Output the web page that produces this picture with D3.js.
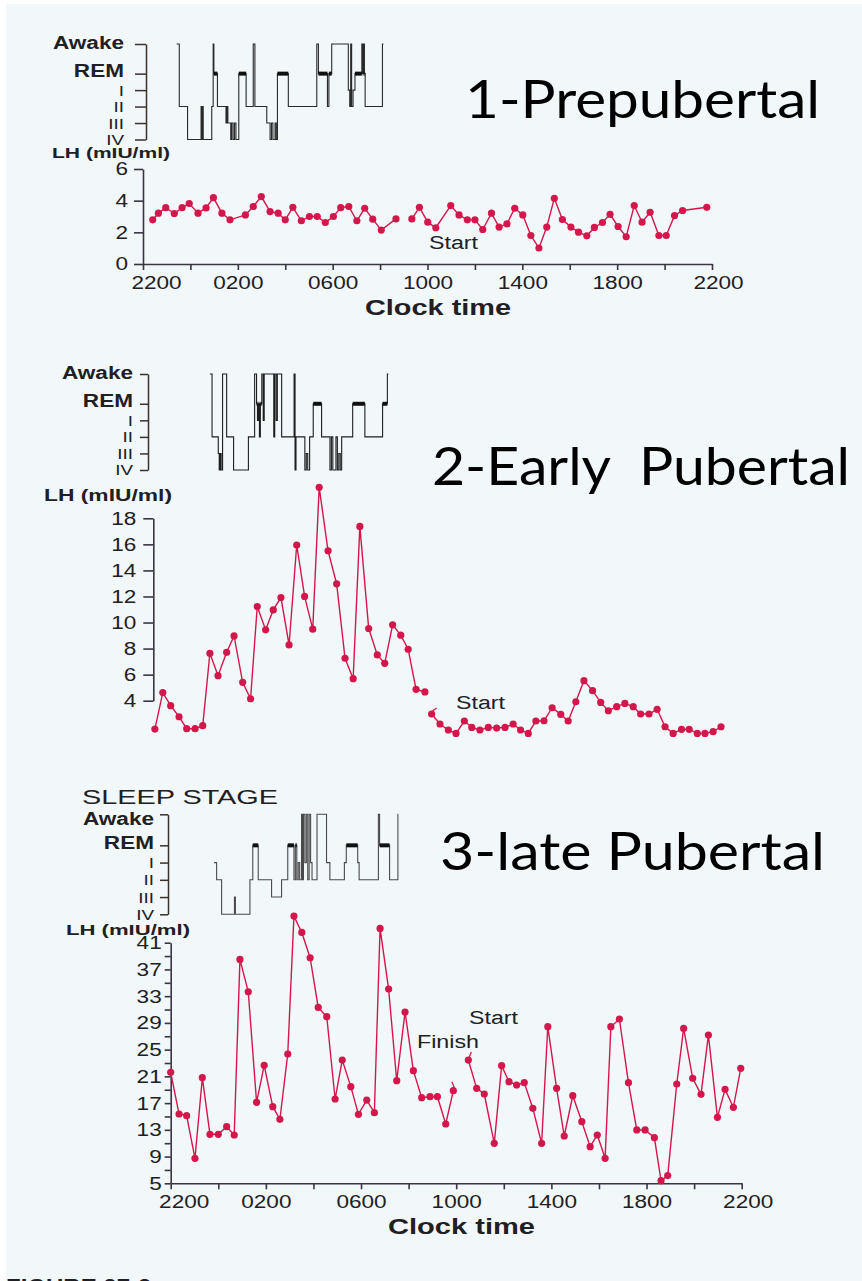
<!DOCTYPE html>
<html>
<head>
<meta charset="utf-8">
<script src="https://cdn.jsdelivr.net/npm/d3@7"></script>
<style>
  html, body { margin: 0; padding: 0; background: #fff; }
  svg { display: block; }
  text { font-family: "Liberation Sans", Arial, sans-serif; fill: #202024; }
  .title { font-family: Lato, "Open Sans", sans-serif; fill: #000; }
</style>
</head>
<body>
<svg id="chart" width="862" height="1281"></svg>
<script>
// all times are hours after 22:00, LH in mIU/ml
const p1Hours = [0.41, 0.65, 0.96, 1.32, 1.65, 1.95, 2.32, 2.66, 2.97, 3.33, 3.67, 4.32, 4.65, 4.99, 5.36, 5.70, 6.00, 6.32, 6.68, 7.02,
  7.35, 7.69, 8.03, 8.34, 8.68, 9.02, 9.35, 9.69, 10.05, 10.67,
  11.34, 11.66, 12.01, 12.35, 12.98, 13.33, 13.68, 14.00, 14.33, 14.70, 15.02, 15.35, 15.68, 16.02, 16.36, 16.70, 17.03, 17.35, 17.69, 18.05,
  18.37, 18.72, 19.04, 19.38, 19.70, 20.04, 20.38, 20.72, 21.05, 21.39, 21.76, 22.07, 22.42, 22.76, 23.78];
const p1LH = [2.79, 3.21, 3.56, 3.19, 3.56, 3.82, 3.21, 3.54, 4.19, 3.21, 2.79, 3.10, 3.63, 4.26, 3.31, 3.21, 2.79, 3.58, 2.73, 3.00,
  3.00, 2.62, 3.00, 3.56, 3.63, 2.73, 3.52, 2.83, 2.14, 2.85,
  2.85, 3.58, 2.64, 2.29, 3.69, 3.10, 2.79, 2.79, 2.18, 3.21, 2.33, 2.54, 3.52, 3.10, 1.80, 1.01, 2.33, 4.15, 2.81, 2.33,
  2.01, 1.78, 2.31, 2.62, 3.14, 2.37, 1.72, 3.69, 2.64, 3.27, 1.80, 1.80, 3.06, 3.38, 3.58];
const p1Breaks = [10.67];

const p2Hours = [0.33, 0.66, 0.99, 1.34, 1.66, 2.01, 2.33, 2.63, 2.97, 3.33, 3.64, 4.00, 4.33, 4.61, 4.96, 5.28, 5.60, 5.94, 6.26, 6.59,
  6.93, 7.20, 7.57, 7.93, 8.28, 8.62, 8.90, 9.27, 9.63, 9.94, 10.27, 10.61, 10.92, 11.25, 11.62,
  11.90, 12.25, 12.60, 12.92, 13.27, 13.58, 13.92, 14.27, 14.62, 14.97, 15.31, 15.62, 15.94, 16.26, 16.60, 16.94, 17.30, 17.61, 17.93, 18.27,
  18.63, 18.97, 19.29, 19.64, 19.98, 20.33, 20.64, 20.99, 21.33, 21.66, 22.00, 22.35, 22.67, 23.01, 23.33, 23.67, 24.00];
const p2LH = [1.82, 4.62, 3.62, 2.77, 1.85, 1.85, 2.08, 7.64, 5.92, 7.72, 8.97, 5.41, 4.15, 11.23, 9.44, 10.97, 11.92, 8.28, 15.95, 12.00,
  9.49, 20.38, 15.51, 12.97, 7.26, 5.69, 17.38, 9.54, 7.51, 6.87, 9.82, 9.03, 7.95, 4.87, 4.67,
  2.98, 2.21, 1.75, 1.49, 2.44, 1.95, 1.75, 1.95, 1.90, 1.95, 2.21, 1.75, 1.49, 2.44, 2.46, 3.46, 2.95, 2.44, 3.92, 5.54,
  4.77, 3.87, 3.23, 3.54, 3.79, 3.54, 2.98, 2.98, 3.34, 2.00, 1.49, 1.80, 1.80, 1.49, 1.49, 1.62, 2.00];
const p2Breaks = [11.62];

const p3Hours = [0.00, 0.35, 0.67, 1.02, 1.33, 1.65, 2.00, 2.35, 2.67, 2.91, 3.26, 3.61, 3.93, 4.29, 4.59, 4.92, 5.18, 5.51, 5.86, 6.20,
  6.56, 6.91, 7.21, 7.57, 7.89, 8.24, 8.56, 8.80, 9.16, 9.50, 9.85, 10.20, 10.55, 10.90, 11.21, 11.56, 11.88,
  12.51, 12.86, 13.18, 13.60, 13.91, 14.22, 14.54, 14.86, 15.22, 15.59, 15.85, 16.22, 16.54, 16.90, 17.28, 17.63, 17.93, 18.26, 18.50, 18.86,
  19.24, 19.59, 19.94, 20.33, 20.61, 20.89, 21.27, 21.56, 21.94, 22.29, 22.60, 22.98, 23.30, 23.65, 23.96];
const p3LH = [21.6, 15.37, 15.12, 8.74, 20.80, 12.33, 12.33, 13.47, 12.23, 38.5, 33.66, 17.11, 22.65, 16.47, 14.57, 24.34, 44.98, 42.54, 38.75, 31.32,
  29.93, 17.61, 23.44, 19.46, 15.32, 17.46, 15.57, 43.14, 34.06, 20.35, 30.62, 21.85, 17.81, 17.96, 17.96, 13.87, 18.86,
  23.44, 19.21, 18.36, 10.98, 22.6, 20.20, 19.71, 20.06, 16.22, 10.98, 28.43, 19.21, 12.08, 18.11, 14.22, 10.48, 12.23, 8.74, 28.43, 29.58,
  20.06, 12.98, 12.98, 11.83, 5.40, 6.15, 19.86, 28.18, 20.70, 18.31, 27.18, 14.87, 19.06, 16.37, 22.20];
const p3Breaks = [11.88];

// sleep stage: [hour, stage index]
const stageNames = ["Awake", "REM", "I", "II", "III", "IV"];
const stageDepth = [0, 1.8, 2.8, 3.8, 4.8, 5.8];
const sleep1 = [[1.42,0],[1.53,3],[1.88,5],[2.45,3],[2.48,5],[2.51,3],[2.54,5],[2.90,3],[2.96,0],[2.99,1],[3.14,3],[3.50,4],[3.54,3],
  [3.58,4],[3.70,5],[3.74,4],[3.80,5],[3.86,4],[3.92,5],[4.04,1],[4.35,3],[4.65,0],[4.72,3],[5.22,4],[5.36,5],[5.42,4],[5.48,5],
  [5.57,4],[5.62,5],[5.67,1],[6.13,3],[7.33,0],[7.40,1],[7.78,3],[7.84,1],[7.96,0],[8.66,2],[8.72,3],[8.76,0],[8.80,3],[8.86,2],
  [8.94,1],[9.23,0],[9.27,1],[9.30,0],[9.34,1],[9.37,3],[10.10,0],[10.14,0]];
const sleep2 = [[2.63,0],[2.72,3],[2.98,4],[3.02,5],[3.06,4],[3.10,5],[3.16,0],[3.33,3],[3.62,5],[4.24,3],[4.50,0],[4.58,1],[4.62,2],
  [4.66,1],[4.70,3],[4.74,1],[4.80,0],[4.86,2],[4.90,0],[5.30,3],[5.34,0],[5.40,2],[5.45,0],[5.63,3],[6.15,0],[6.19,5],[6.23,3],
  [6.60,5],[6.66,4],[6.72,5],[6.80,3],[6.95,1],[7.30,3],[7.65,5],[7.71,3],[7.77,5],[7.90,3],[7.96,5],[8.02,4],[8.08,5],[8.14,3],
  [8.60,1],[9.11,3],[9.85,1],[10.05,0],[10.09,0]];
const sleep3 = [[1.82,2],[1.93,3],[2.14,5],[2.68,4],[2.72,5],[3.33,3],[3.45,1],[3.68,3],[4.24,4],[4.66,3],[4.92,1],[5.18,3],[5.24,1],
  [5.30,3],[5.36,2],[5.42,3],[5.50,0],[5.54,3],[5.58,0],[5.64,2],[5.70,0],[5.76,3],[5.82,0],[5.88,2],[5.94,3],[6.15,0],[6.55,2],
  [6.69,3],[7.30,2],[7.38,1],[7.86,2],[7.92,3],[8.73,0],[8.78,1],[9.20,3],[9.55,0],[9.57,0]];

const clockTicks = [0, 2, 4, 6, 8, 10, 12, 14, 16, 18, 20, 22, 24];
const clockLabels = { 0: "2200", 4: "0200", 8: "0600", 12: "1000", 16: "1400", 20: "1800", 24: "2200" };
const p1YTicks = [0, 2, 4, 6];
const p2YTicks = [4, 6, 8, 10, 12, 14, 16, 18];
const p3YTicks = d3.range(5, 42, 2);
const p3YLabels = [5, 9, 13, 17, 21, 25, 29, 33, 37, 41];

const K = 1.22;      // the scanned lettering is stretched sideways
const RED = "#d3174c";
const AXIS = "#3a3444";
const svg = d3.select("#chart");

svg.append("rect").attr("x", 6).attr("y", 4).attr("width", 862).attr("height", 1281).attr("fill", "#f2f7fa");

function styleAxis(g) {
  g.attr("font-family", null).attr("font-size", 18.5);
  g.selectAll("path, line").attr("stroke", AXIS).attr("stroke-width", 1.6);
  g.selectAll("text").attr("fill", "#222");
}

function fitText(x, y, str, width, size, bold) {
  return svg.append("text")
    .attr("x", x).attr("y", y)
    .attr("font-size", size)
    .attr("font-weight", bold ? "bold" : "normal")
    .attr("textLength", width)
    .attr("lengthAdjust", "spacingAndGlyphs")
    .style("white-space", "pre")
    .text(str);
}

function drawLH(p) {
  const x = d3.scaleLinear().domain([0, 24]).range(p.xRange);
  const y = d3.scaleLinear().domain(p.yDomain).range(p.yRange);

  const yAxis = svg.append("g")
    .attr("transform", `translate(${p.axisX},0)`)
    .call(d3.axisLeft(y).tickValues(p.yTicks)
      .tickFormat(d => p.yLabels.includes(d) ? d : "")
      .tickSize(p.tick).tickSizeOuter(0));
  styleAxis(yAxis);
  yAxis.selectAll(".tick text")
    .attr("transform", `scale(${K},1)`)
    .attr("x", -(p.tick + p.pad) / K);

  if (p.xAxis) {
    const xAxis = svg.append("g")
      .attr("transform", `translate(0,${y(p.yDomain[0])})`)
      .call(d3.axisBottom(x).tickValues(clockTicks)
        .tickFormat(d => clockLabels[d] || "")
        .tickSize(6).tickSizeOuter(0));
    styleAxis(xAxis);
    xAxis.selectAll(".tick text")
      .attr("y", 25).attr("dy", null)
      .attr("transform", `scale(${K},1)`)
      .attr("x", d => (d === 0 ? 13 : d === 24 ? 6 : 0) / K);
  }

  // split into runs where the trace is interrupted
  const segs = [];
  let cur = [];
  p.hours.forEach((h, i) => {
    cur.push([h, p.lh[i]]);
    if (p.breaks.includes(h)) { segs.push(cur); cur = []; }
  });
  segs.push(cur);

  const line = d3.line().x(d => x(d[0])).y(d => y(d[1]));
  svg.append("g").selectAll("path").data(segs).join("path")
    .attr("d", line)
    .attr("fill", "none")
    .attr("stroke", RED)
    .attr("stroke-width", 1.4);

  svg.append("g").selectAll("circle")
    .data(p.hours.map((h, i) => [h, p.lh[i]]))
    .join("circle")
    .attr("cx", d => x(d[0]))
    .attr("cy", d => y(d[1]))
    .attr("r", 3.6)
    .attr("fill", RED);

  return { x, y };
}

function drawSleep(x, s, data, color) {
  const sy = d3.scaleLinear().domain([0, stageDepth[5]]).range([s.top, s.bottom]);

  const axis = svg.append("g")
    .attr("transform", `translate(${s.axisX},0)`)
    .call(d3.axisLeft(sy).tickValues(stageDepth)
      .tickFormat((d, i) => stageNames[i])
      .tickSize(s.tick).tickSizeOuter(0));
  styleAxis(axis);
  axis.selectAll("path, line").attr("stroke", "#3b3129").attr("stroke-width", 1.5);
  axis.selectAll(".tick text")
    .attr("font-weight", (d, i) => i < 2 ? "bold" : "normal")
    .attr("font-size", (d, i) => i < 2 ? 18.5 : 15.5)
    .attr("fill", "#111")
    .attr("transform", `scale(${K},1)`)
    .attr("x", -(s.tick + s.pad) / K)
    .attr("y", (d, i) => i === 0 ? s.awakeDy : i === 1 ? -3 : 0);

  const line = d3.line()
    .x(d => x(d[0]))
    .y(d => sy(stageDepth[d[1]]))
    .curve(d3.curveStepAfter);
  svg.append("path")
    .attr("d", line(data))
    .attr("fill", "none")
    .attr("stroke", color)
    .attr("stroke-width", 1.1);

  // REM periods drawn as heavy bars
  const rem = data.slice(0, -1).map((d, i) => [d, data[i + 1]]).filter(p => p[0][1] === 1);
  svg.append("g").selectAll("line").data(rem).join("line")
    .attr("x1", d => x(d[0][0])).attr("x2", d => x(d[1][0]))
    .attr("y1", sy(stageDepth[1])).attr("y2", sy(stageDepth[1]))
    .attr("stroke", "#111")
    .attr("stroke-width", 4);
}

function stub(sc, h, v, dx, dy) {
  const x0 = sc.x(h), y0 = sc.y(v);
  svg.append("line")
    .attr("x1", x0 + (dx ? 1 : 0)).attr("y1", y0 - (dx ? 3 : 5))
    .attr("x2", x0 + dx).attr("y2", y0 + dy)
    .attr("stroke", RED).attr("stroke-width", 1.3);
}

// ---- panel 1
const s1 = drawLH({ hours: p1Hours, lh: p1LH, breaks: p1Breaks, xRange: [143, 712], yDomain: [0, 6], yRange: [264, 169],
  axisX: 143, yTicks: p1YTicks, yLabels: p1YTicks, tick: 9, pad: 6, xAxis: true });
drawSleep(s1.x, { top: 44, bottom: 139.5, axisX: 146, tick: 11, pad: 11, awakeDy: -1 }, sleep1, "#2a2a2a");
fitText(52, 158, "LH (mIU/ml)", 118, 15.5, true);
fitText(429, 249, "Start", 49, 18, false);
fitText(365, 314.5, "Clock time", 146, 21.5, true);
svg.append("text").attr("class", "title").attr("x", 465).attr("y", 118).attr("font-size", 52)
  .attr("textLength", 355).attr("lengthAdjust", "spacingAndGlyphs").text("1-Prepubertal");

// ---- panel 2
const s2 = drawLH({ hours: p2Hours, lh: p2LH, breaks: p2Breaks, xRange: [147, 721], yDomain: [4, 18], yRange: [700.7, 518.3],
  axisX: 153.3, yTicks: p2YTicks, yLabels: p2YTicks, tick: 10, pad: 7, xAxis: false });
drawSleep(s2.x, { top: 374, bottom: 470, axisX: 148, tick: 8, pad: 7, awakeDy: -1 }, sleep2, "#1e1e1e");
stub(s2, 11.90, 2.98, 5, -6);
fitText(44, 501, "LH (mIU/ml)", 128, 17, true);
fitText(456, 709, "Start", 49, 18, false);
svg.append("text").attr("class", "title").attr("x", 432).attr("y", 485).attr("font-size", 52)
  .attr("textLength", 418).attr("lengthAdjust", "spacingAndGlyphs").style("white-space", "pre").text("2-Early  Pubertal");

// ---- panel 3
const s3 = drawLH({ hours: p3Hours, lh: p3LH, breaks: p3Breaks, xRange: [170.7, 741.7], yDomain: [5, 41], yRange: [1183.3, 942.7],
  axisX: 170.7, yTicks: p3YTicks, yLabels: p3YLabels, tick: 6, pad: 3, xAxis: true });
drawSleep(s3.x, { top: 814.3, bottom: 914.3, axisX: 168, tick: 8, pad: 6, awakeDy: 4 }, sleep3, "#4a4a4a");
stub(s3, 11.88, 18.86, -1.5, -9);
stub(s3, 12.51, 23.44, 3, -8);
fitText(82, 804, "SLEEP STAGE", 196, 21, false);
fitText(66, 935, "LH (mIU/ml)", 124, 15.5, true);
fitText(469, 1024, "Start", 49, 18, false);
fitText(417, 1048, "Finish", 62, 18, false);
fitText(388, 1234, "Clock time", 147, 21.5, true);
svg.append("text").attr("class", "title").attr("x", 440).attr("y", 870).attr("font-size", 52)
  .attr("textLength", 385).attr("lengthAdjust", "spacingAndGlyphs").text("3-late Pubertal");

// caption cut off at the bottom edge
svg.append("text").attr("x", 6).attr("y", 1296).attr("font-size", 24).attr("font-weight", "bold")
  .attr("fill", "#e4508f").text("FIGURE 27-3");
</script>
</body>
</html>
